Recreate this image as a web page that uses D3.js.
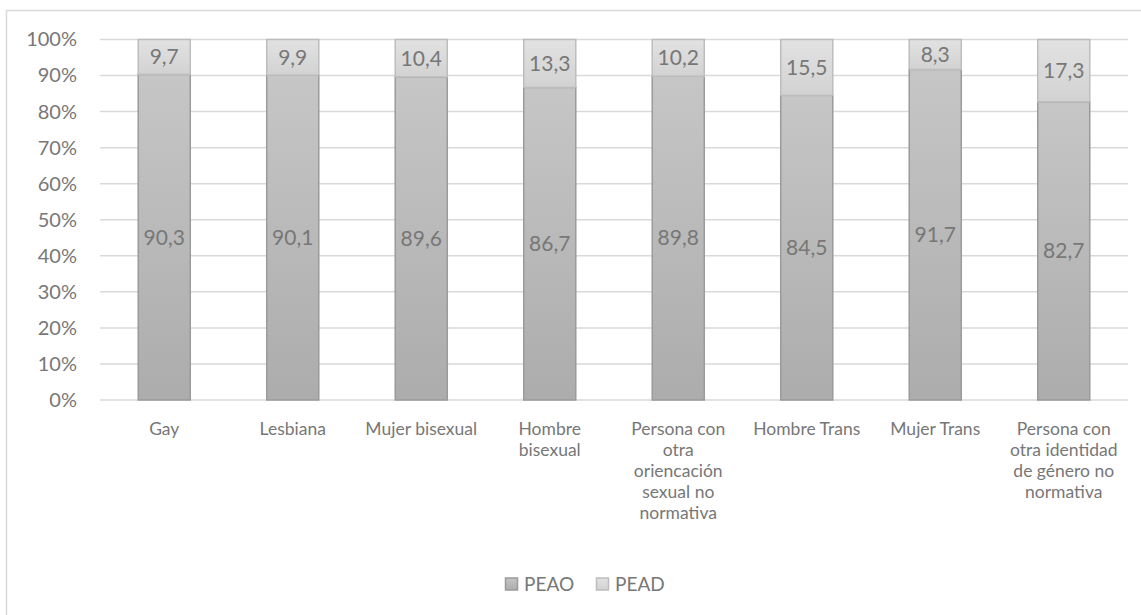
<!DOCTYPE html>
<html>
<head>
<meta charset="utf-8">
<script src="https://cdn.jsdelivr.net/npm/d3@7"></script>
<style>
  body { margin: 0; background: #fff; }
  text { font-family: Lato, "Open Sans", sans-serif; fill: #777; }
</style>
</head>
<body>
<div class="chart"></div>
<script>
// data
var categories = ["Gay", "Lesbiana", "Mujer bisexual", "Hombre bisexual",
  "Persona con otra oriencación sexual no normativa", "Hombre Trans", "Mujer Trans",
  "Persona con otra identidad de género no normativa"];
var categoryLines = [
  ["Gay"],
  ["Lesbiana"],
  ["Mujer bisexual"],
  ["Hombre", "bisexual"],
  ["Persona con", "otra", "oriencación", "sexual no", "normativa"],
  ["Hombre Trans"],
  ["Mujer Trans"],
  ["Persona con", "otra identidad", "de género no", "normativa"]
];
var peao = [90.3, 90.1, 89.6, 86.7, 89.8, 84.5, 91.7, 82.7];
var pead = [9.7, 9.9, 10.4, 13.3, 10.2, 15.5, 8.3, 17.3];
var seriesNames = ["PEAO", "PEAD"];
var yTicks = [0, 10, 20, 30, 40, 50, 60, 70, 80, 90, 100];

var svgWidth = 1141;
var svgHeight = 615;

var svg = d3.select(".chart")
  .append("svg")
  .attr("width", svgWidth)
  .attr("height", svgHeight);

// gradients for the bars
var defs = svg.append("defs");
function addGradient(id, top, bottom) {
  var g = defs.append("linearGradient")
    .attr("id", id)
    .attr("x1", 0).attr("y1", 0).attr("x2", 0).attr("y2", 1);
  g.append("stop").attr("offset", "0%").attr("stop-color", top);
  g.append("stop").attr("offset", "100%").attr("stop-color", bottom);
}
addGradient("gPEAO", "#c6c6c6", "#acacac");
addGradient("gPEAD", "#e2e2e2", "#d2d2d2");
var fills = ["url(#gPEAO)", "url(#gPEAD)"];
var strokes = ["#9b9b9b", "#bdbdbd"];

// outer chart border
svg.append("rect")
  .attr("x", 6.5)
  .attr("y", 10.5)
  .attr("width", 1140)
  .attr("height", 610)
  .attr("fill", "none")
  .attr("stroke", "#d9d9d9")
  .attr("stroke-width", 1.5);

var x = d3.scaleBand()
  .domain(categories)
  .range([100, 1128])
  .paddingInner(0.595)
  .paddingOuter(0.2975);

var y = d3.scaleLinear()
  .domain([0, 100])
  .range([400, 39.5]);

// gridlines
svg.append("g")
  .selectAll("line")
  .data(yTicks)
  .enter()
  .append("line")
  .attr("x1", 100)
  .attr("x2", 1128)
  .attr("y1", d => y(d))
  .attr("y2", d => y(d))
  .attr("stroke", "#d9d9d9")
  .attr("stroke-width", 1.5);

// y axis labels
var leftAxis = d3.axisLeft(y)
  .tickValues(yTicks)
  .tickFormat(d => d + "%")
  .tickSize(0)
  .tickPadding(0);

var yAxis = svg.append("g")
  .attr("transform", "translate(77,0)")
  .call(leftAxis);
yAxis.select(".domain").remove();
yAxis.selectAll("text")
  .attr("font-size", "20px")
  .attr("fill", "#777")
  .style("font-family", "Lato, 'Open Sans', sans-serif");

// stacked bars
var rows = categories.map((c, i) => ({ cat: c, PEAO: peao[i], PEAD: pead[i] }));
var stacked = d3.stack().keys(seriesNames)(rows);

var layers = svg.append("g")
  .selectAll("g")
  .data(stacked)
  .enter()
  .append("g");

layers.selectAll("rect")
  .data((d, i) => d.map(p => ({ p: p, s: i })))
  .enter()
  .append("rect")
  .attr("x", d => x(d.p.data.cat))
  .attr("y", d => y(d.p[1]))
  .attr("width", x.bandwidth())
  .attr("height", d => y(d.p[0]) - y(d.p[1]))
  .attr("fill", d => fills[d.s])
  .attr("stroke", d => strokes[d.s])
  .attr("stroke-width", 1.5);

// value labels in the middle of each segment
layers.selectAll("text")
  .data((d, i) => d.map(p => ({ p: p, s: i })))
  .enter()
  .append("text")
  .attr("x", d => x(d.p.data.cat) + x.bandwidth() / 2)
  .attr("y", d => y((d.p[0] + d.p[1]) / 2))
  .attr("dy", "0.35em")
  .attr("text-anchor", "middle")
  .attr("font-size", "21px")
  .text(d => (d.p[1] - d.p[0]).toFixed(1).replace(".", ","));

// category labels
var catGroup = svg.append("g")
  .selectAll("text")
  .data(categories)
  .enter()
  .append("text")
  .attr("x", d => x(d) + x.bandwidth() / 2)
  .attr("y", 429)
  .attr("text-anchor", "middle")
  .attr("font-size", "17.5px");

catGroup.selectAll("tspan")
  .data((d, i) => categoryLines[i])
  .enter()
  .append("tspan")
  .attr("x", function() { return d3.select(this.parentNode).attr("x"); })
  .attr("y", (d, j) => 429 + j * 21)
  .attr("dy", "0.35em")
  .text(d => d);

// legend
var legendX = [505, 596];
var legend = svg.append("g")
  .selectAll("g")
  .data(seriesNames)
  .enter()
  .append("g")
  .attr("transform", (d, i) => `translate(${legendX[i]}, 584)`);

legend.append("rect")
  .attr("x", 0.5)
  .attr("y", -6)
  .attr("width", 12)
  .attr("height", 12)
  .attr("fill", (d, i) => fills[i])
  .attr("stroke", (d, i) => strokes[i])
  .attr("stroke-width", 1.5);

legend.append("text")
  .attr("x", 19)
  .attr("y", 0)
  .attr("dy", "0.35em")
  .attr("font-size", "19px")
  .text(d => d);
</script>
</body>
</html>
